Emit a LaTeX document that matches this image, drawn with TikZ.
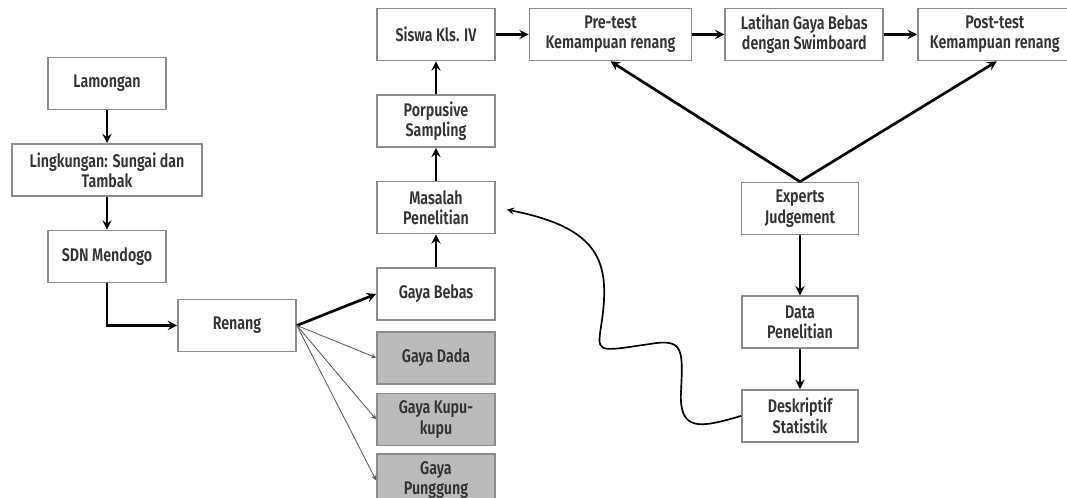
\documentclass[tikz,border=0pt]{standalone}
\usepackage{fontspec}
\setmainfont{Fira Sans}[FakeStretch=0.78, UprightFont=* SemiBold]
\usepackage{tikz}
\usetikzlibrary{arrows, positioning, calc}
\definecolor{boxline}{HTML}{8C8C8C}
\definecolor{boxgray}{HTML}{BBBBBB}
\definecolor{boxtext}{HTML}{333333}

\begin{document}
\begin{tikzpicture}[
    x=0.025cm, y=-0.025cm,
    node distance=0.82cm,
    box/.style={rectangle, draw=boxline, line width=1.2pt, fill=white, text=boxtext, minimum width=2.95cm, minimum height=1.3cm, align=center, font=\fontsize{13}{14.5}\selectfont, inner sep=1pt},
    grey/.style={box, fill=boxgray},
    arrow/.style={->, >=stealth, line width=1.9pt},
    thin/.style={->, >=stealth, line width=0.6pt, draw=black!65}
]
    \useasboundingbox (0,0) rectangle (1067,498);

    % left column
    \node[box] (lamongan) at (107,83.5) {Lamongan};
    \node[box, minimum width=4.75cm, below=of lamongan] (lingkungan) {Lingkungan: Sungai dan\\Tambak};
    \node[box, below=of lingkungan] (sdn) {SDN Mendogo};
    \node[box] (renang) at (237,325.5) {Renang};

    % swimming styles and sampling column
    \node[box] (bebas) at (436,294) {Gaya Bebas};
    \node[grey, below=0.25cm of bebas] (dada) {Gaya Dada};
    \node[grey, below=0.2cm of dada] (kupu) {Gaya Kupu-\\kupu};
    \node[grey, below=0.18cm of kupu] (punggung) {Gaya\\Punggung};
    \node[box, above=of bebas] (masalah) {Masalah\\Penelitian};
    \node[box, above=of masalah] (porpusive) {Porpusive\\Sampling};
    \node[box, above=of porpusive] (siswa) {Siswa Kls. IV};

    % treatment row
    \node[box, minimum width=4.05cm, right=of siswa] (pretest) {Pre-test\\Kemampuan renang};
    \node[box, minimum width=3.95cm, right=0.8cm of pretest] (latihan) {Latihan Gaya Bebas\\dengan Swimboard};
    \node[box, minimum width=3.85cm, right=of latihan] (posttest) {Post-test\\Kemampuan renang};

    % analysis column
    \node[box, minimum width=2.92cm] (experts) at (800,208.5) {Experts\\Judgement};
    \node[box, minimum width=2.9cm, below=1.5cm of experts] (data) {Data\\Penelitian};
    \node[box, minimum width=2.9cm, below=1.0cm of data] (deskriptif) {Deskriptif\\Statistik};

    \draw[arrow] (lamongan) -- (lingkungan);
    \draw[arrow] (lingkungan) -- (sdn);
    \draw[arrow] (sdn.south) |- (renang.west);
    \draw[arrow] (renang.east) -- (bebas.west);
    \draw[thin] (renang.east) -- (dada.west);
    \draw[thin] (renang.east) -- (kupu.west);
    \draw[thin] (renang.east) -- (punggung.west);
    \draw[arrow] (bebas) -- (masalah);
    \draw[arrow] (masalah) -- (porpusive);
    \draw[arrow] (porpusive) -- (siswa);
    \draw[arrow] (siswa) -- (pretest);
    \draw[arrow] (pretest) -- (latihan);
    \draw[arrow] (latihan) -- (posttest);
    \draw[arrow] (experts.north) -- (pretest.south);
    \draw[arrow] (experts.north) -- ($(posttest.south)+(2,0)$);
    \draw[arrow] (experts) -- (data);
    \draw[arrow] (data) -- (deskriptif);

    % wavy link back to the research problem
    \draw[->, >=stealth, line width=1.2pt, shorten >=8pt] (deskriptif.west)
        .. controls (700,428) and (679,432) .. (681,392)
        .. controls (683,350) and (684,338) .. (650,344)
        .. controls (594,352) and (597,354) .. (602,320)
        .. controls (610,262) and (600,228) .. (masalah.east);
\end{tikzpicture}
\end{document}
